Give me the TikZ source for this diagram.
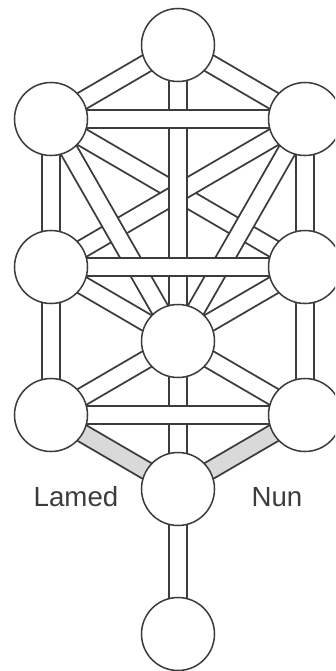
\documentclass[tikz,border=0pt]{standalone}
\usepackage{fontspec}
\setmainfont{Liberation Sans}
\usetikzlibrary{backgrounds}
\definecolor{TreeInk}{HTML}{3C3C3C}
\definecolor{TreeShade}{HTML}{D9D9D9}

\begin{document}
\begin{tikzpicture}[x=0.03cm,y=-0.03cm,
    sefira/.style={circle,draw=TreeInk,fill=white,line width=1.3pt,
      minimum size=2.19cm,inner sep=0pt},
    pipe/.style={draw=TreeInk,line width=1.6pt,double=white,
      double distance=13.6pt},
    shadedpipe/.style={pipe,double=TreeShade},
    letter/.style={text=TreeInk,font=\fontsize{23.6}{28}\selectfont}]
  \clip (0,0) rectangle (335,671);
  % the ten circles
  \node[sefira] (kether)    at (178,45)  {};
  \node[sefira] (binah)     at (51,119)  {};
  \node[sefira] (chokmah)   at (305,119) {};
  \node[sefira] (geburah)   at (51,267)  {};
  \node[sefira] (chesed)    at (305,267) {};
  \node[sefira] (tiphereth) at (178,341) {};
  \node[sefira] (hod)       at (51,415)  {};
  \node[sefira] (netzach)   at (305,415) {};
  \node[sefira] (yesod)     at (178,489) {};
  \node[sefira] (malkuth)   at (178,634) {};
  \node[letter] (lamed) at (76,497) {Lamed};
  \node[letter] (nun)   at (277,497) {Nun};
  % the paths, behind the circles
  \begin{scope}[on background layer]
    \foreach \a/\b in {binah/chesed,chokmah/geburah,binah/tiphereth,
        chokmah/tiphereth,kether/binah,kether/chokmah,geburah/tiphereth,
        chesed/tiphereth,hod/tiphereth,netzach/tiphereth,binah/geburah,
        chokmah/chesed,geburah/hod,chesed/netzach}
      \draw[pipe] (\a.center) -- (\b.center);
    \draw[shadedpipe] (hod.center) -- (yesod.center);
    \draw[shadedpipe] (netzach.center) -- (yesod.center);
    \draw[pipe] (kether.center) -- (tiphereth.center);
    \draw[pipe] (tiphereth.center) -- (yesod.center);
    \draw[pipe] (yesod.center) -- (malkuth.center);
    \foreach \a/\b in {binah/chokmah,geburah/chesed,hod/netzach}
      \draw[pipe] (\a.center) -- (\b.center);
  \end{scope}
\end{tikzpicture}
\end{document}
